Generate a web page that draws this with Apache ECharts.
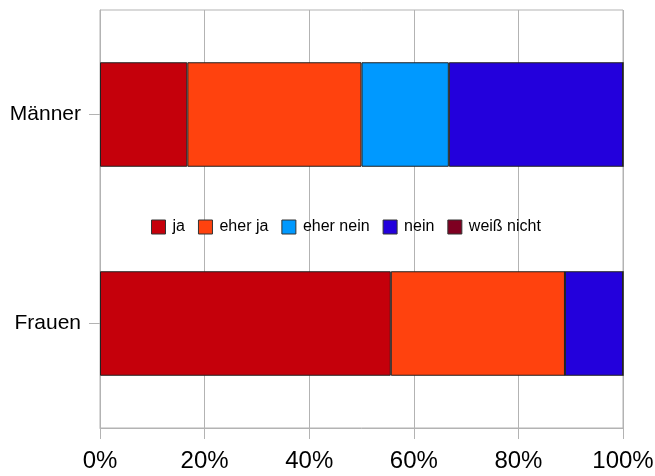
<!DOCTYPE html>
<html><head><meta charset="utf-8">
<script src="https://cdn.jsdelivr.net/npm/echarts@6/dist/echarts.min.js"></script>
<style>html,body{margin:0;padding:0;background:#fff}#c{width:655px;height:476px}</style>
</head><body><div id="c"></div>
<script>
const categories = ['Männer', 'Frauen'];
const seriesNames = ['ja', 'eher ja', 'eher nein', 'nein', 'weiß nicht'];
const ja = [16.7, 55.6];
const eherJa = [33.3, 33.3];
const eherNein = [16.7, 0];
const nein = [33.3, 11.1];
const weissNicht = [0, 0];
const xTicks = [0, 20, 40, 60, 80, 100];
const colors = ['#C5000B', '#FF420E', '#0099FF', '#2300DC', '#7E0021'];
const values = [ja, eherJa, eherNein, nein, weissNicht];

const chart = echarts.init(document.getElementById('c'));
const font = 'Liberation Sans, Arial, sans-serif';
chart.setOption({
  animation: false,
  grid: {left: 100, right: 32, top: 10, bottom: 48, show: true, borderColor: '#b3b3b3', borderWidth: 1, outerBoundsMode: 'none', containLabel: false},
  legend: {
    data: seriesNames, top: 214, left: 146, itemWidth: 14, itemHeight: 14, itemGap: 13,
    icon: 'rect',
    itemStyle: {borderColor: '#333', borderWidth: 1},
    textStyle: {fontSize: 16, color: '#000', fontFamily: font, padding: [0, 0, 0, 2]}
  },
  xAxis: {
    type: 'value', min: xTicks[0], max: xTicks[xTicks.length-1], interval: 20,
    axisLine: {show: true, lineStyle: {color: '#b3b3b3'}},
    axisTick: {show: true, length: 11, lineStyle: {color: '#b3b3b3'}},
    splitLine: {show: true, lineStyle: {color: '#b3b3b3'}},
    axisLabel: {formatter: '{value}%', fontSize: 24, color: '#000', fontFamily: font, margin: 21}
  },
  yAxis: {
    type: 'category', data: categories, inverse: true,
    axisLine: {show: true, lineStyle: {color: '#b3b3b3'}},
    axisTick: {show: true, alignWithLabel: true, length: 11, lineStyle: {color: '#b3b3b3'}},
    axisLabel: {fontSize: 21, color: '#000', fontFamily: font, margin: 19}
  },
  series: seriesNames.map((n, i) => ({
    name: n, type: 'bar', stack: 'total', data: values[i], barCategoryGap: '50%',
    itemStyle: {color: colors[i], borderColor: '#222', borderWidth: 1}
  }))
});
</script></body></html>
